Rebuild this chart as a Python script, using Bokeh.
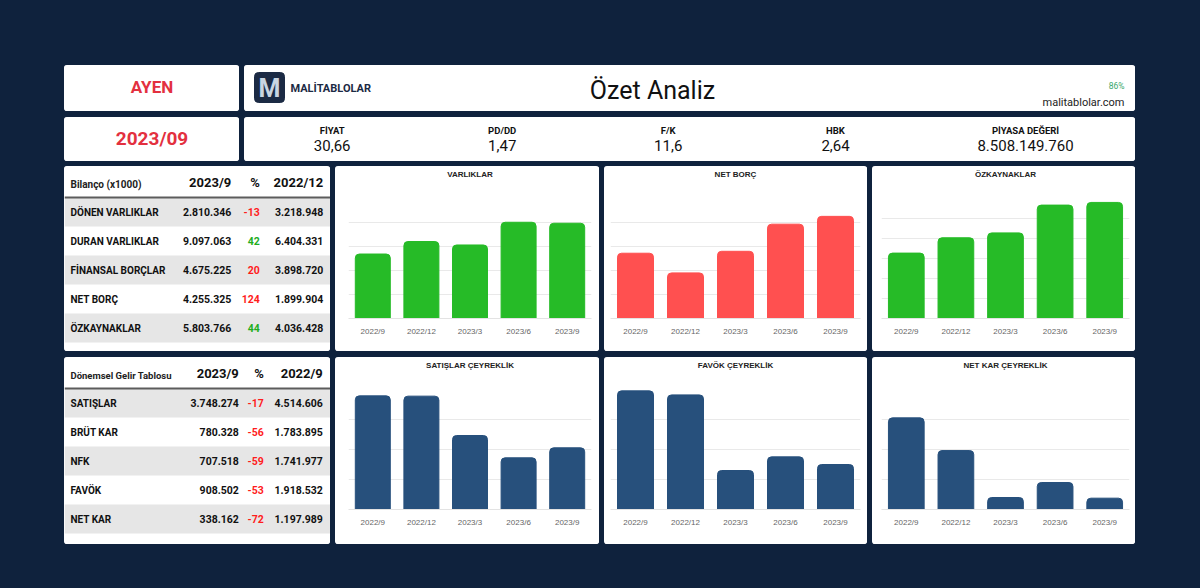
from bokeh.plotting import figure
from bokeh.layouts import row, column
from bokeh.models import Range1d, FactorRange, FixedTicker, GlobalInlineStyleSheet
from bokeh.core.properties import value
from bokeh.embed import file_html
from bokeh.resources import INLINE

# ---------------- data ----------------
stock_code = "AYEN"
report_period = "2023/09"
page_title = "Özet Analiz"
brand_name = "MALİTABLOLAR"
site_url = "malitablolar.com"
score_text = "86%"

metric_names = ["FİYAT", "PD/DD", "F/K", "HBK", "PİYASA DEĞERİ"]
metric_values = ["30,66", "1,47", "11,6", "2,64", "8.508.149.760"]

bilanco_header = ["Bilanço (x1000)", "2023/9", "%", "2022/12"]
bilanco_items = ["DÖNEN VARLIKLAR", "DURAN VARLIKLAR", "FİNANSAL BORÇLAR", "NET BORÇ", "ÖZKAYNAKLAR"]
bilanco_cur = ["2.810.346", "9.097.063", "4.675.225", "4.255.325", "5.803.766"]
bilanco_pct = [-13, 42, 20, 124, 44]
bilanco_pct_good = [False, True, False, False, True]
bilanco_prev = ["3.218.948", "6.404.331", "3.898.720", "1.899.904", "4.036.428"]

gelir_header = ["Dönemsel Gelir Tablosu", "2023/9", "%", "2022/9"]
gelir_items = ["SATIŞLAR", "BRÜT KAR", "NFK", "FAVÖK", "NET KAR"]
gelir_cur = ["3.748.274", "780.328", "707.518", "908.502", "338.162"]
gelir_pct = [-17, -56, -59, -53, -72]
gelir_pct_good = [False, False, False, False, False]
gelir_prev = ["4.514.606", "1.783.895", "1.741.977", "1.918.532", "1.197.989"]

periods = ["2022/9", "2022/12", "2023/3", "2023/6", "2023/9"]
varliklar = [8060000, 9623279, 9190000, 12030000, 11907409]
net_borc = [2720000, 1899904, 2800000, 3930000, 4255325]
ozkaynaklar = [3270000, 4036428, 4280000, 5670000, 5803766]
satislar_q = [2273000, 2267000, 1480000, 1034000, 1234000]
favok_q = [791000, 764000, 260000, 351000, 300000]
net_kar_q = [611000, 393000, 80000, 180000, 75500]

# ---------------- style ----------------
BG = "#0f223d"
RED = "#e3303f"
GREEN_BAR = "#26bb27"
RED_BAR = "#ff5050"
BLUE_BAR = "#27507c"
PCT_RED = "#ff1c1c"
PCT_GREEN = "#1fae1f"
FONT = value("Roboto")
CFONT = "Liberation Sans"


def panel(w, h, radius="3px"):
    p = figure(width=w, height=h, x_range=Range1d(0, w), y_range=Range1d(h, 0),
               output_backend="svg", toolbar_location=None,
               x_axis_location=None, y_axis_location=None, min_border=0,
               background_fill_color="white", border_fill_color="white")
    p.outline_line_color = None
    p.grid.visible = False
    p.styles = {"border-radius": radius, "overflow": "hidden", "background-color": "white"}
    return p


def txt(p, x, y, s, size, color="#111111", bold=True, align="center", font=FONT):
    p.text(x=x if isinstance(x, list) else [x], y=y if isinstance(y, list) else [y],
           text=s if isinstance(s, list) else [s],
           text_font=font, text_font_size=size,
           text_font_style="bold" if bold else "normal",
           text_color=color, text_align=align, text_baseline="middle")


# ---- top-left panels ----
p_code = panel(175, 46)
txt(p_code, 87.5, 21, stock_code, "17px", RED)

p_date = panel(175, 44)
txt(p_date, 87.5, 20.5, report_period, "19px", RED)

# ---- header ----
p_head = panel(891, 46)
p_head.quad(left=[10], right=[40], top=[7], bottom=[37], fill_color="#1b2a44",
            line_color="#1b2a44", border_radius=4)
txt(p_head, 25, 23, "M", "25px", "#c8d5e2")
txt(p_head, 46, 23, brand_name, "11px", "#1b2a44", align="left")
txt(p_head, 408, 24.5, page_title, "25px", "#111111", bold=False)
txt(p_head, 880, 20.5, score_text, "8.5px", "#3aa76d", bold=False, align="right")
txt(p_head, 880, 37, site_url, "11px", "#222222", bold=False, align="right")

# ---- metrics ----
p_met = panel(891, 44)
metric_x = [87.7, 257.7, 423.7, 591, 781]
txt(p_met, metric_x, [13] * 5, metric_names, "9.5px", "#111111")
txt(p_met, metric_x, [28] * 5, metric_values, "15px", "#111111", bold=False)


# ---- tables ----
def table(h, header, items, cur, pct, good, prev, cols, label_size):
    p = panel(266, h)
    row_h = 29
    top0 = 31
    for i in range(len(items)):
        if i % 2 == 0:
            p.quad(left=[0], right=[266], top=[top0 + i * row_h], bottom=[top0 + (i + 1) * row_h],
                   fill_color="#e6e6e6", line_color=None)
    p.quad(left=[0], right=[266], top=[top0 - 1], bottom=[top0 + 1], fill_color="#5c5c5c", line_color=None)
    txt(p, 6, 17.5, header[0], label_size, "#222222", align="left")
    txt(p, [cols[0], cols[1], cols[2]], [16] * 3, header[1:], "13px", "#111111", align="right")
    ys = [top0 + i * row_h + row_h / 2 for i in range(len(items))]
    txt(p, [6] * len(items), ys, items, "10px", "#111111", align="left")
    txt(p, [cols[0]] * len(items), ys, cur, "10.5px", "#111111", align="right")
    txt(p, [cols[1]] * len(items), ys, [str(v) for v in pct], "10.5px",
        [PCT_GREEN if g else PCT_RED for g in good], align="right")
    txt(p, [cols[2]] * len(items), ys, prev, "10.5px", "#111111", align="right")
    return p


t1 = table(185, bilanco_header, bilanco_items, bilanco_cur, bilanco_pct, bilanco_pct_good,
           bilanco_prev, [166.7, 195.3, 258.7], "10px")
t2 = table(187, gelir_header, gelir_items, gelir_cur, gelir_pct, gelir_pct_good,
           gelir_prev, [174.3, 199.3, 258.3], "9.5px")


# ---- bar charts ----
def bar_chart(title, vals, color, ymax, ystep, w, h, left, right, bottom):
    head_h = 31
    ph = panel(w, head_h, radius="3px 3px 0 0")
    txt(ph, w / 2, 8, title, "8px", "#222222", font=value(CFONT))

    p = figure(x_range=FactorRange(*periods), y_range=Range1d(0, ymax), width=w, height=h - head_h,
               output_backend="svg", toolbar_location=None, y_axis_location=None,
               min_border_left=left, min_border_right=right, min_border_top=1,
               min_border_bottom=bottom,
               background_fill_color="white", border_fill_color="white")
    p.outline_line_color = None
    p.styles = {"border-radius": "0 0 3px 3px", "overflow": "hidden", "background-color": "white"}
    p.xgrid.visible = False
    ticks = []
    t = ystep
    while t <= ymax + 1e-6:
        ticks.append(t)
        t += ystep
    p.ygrid.ticker = FixedTicker(ticks=ticks)
    p.ygrid.grid_line_color = "#e9e9e9"
    p.vbar(x=periods, top=vals, width=0.72, fill_color=color, line_color=color,
           border_radius=(4, 4, 0, 0))
    ax = p.xaxis[0]
    ax.axis_line_color = "#e3e3e3"
    ax.major_tick_line_color = None
    ax.major_tick_out = 0
    ax.major_tick_in = 0
    ax.major_label_standoff = 8
    ax.major_label_text_font = CFONT
    ax.major_label_text_font_size = "8px"
    ax.major_label_text_color = "#666666"
    return column(ph, p, spacing=0)


c1 = bar_chart("VARLIKLAR", varliklar, GREEN_BAR, 15000000, 3000000, 264, 185, 13, 8, 33)
c2 = bar_chart("NET BORÇ", net_borc, RED_BAR, 5000000, 1000000, 263, 185, 6, 7, 33)
c3 = bar_chart("ÖZKAYNAKLAR", ozkaynaklar, GREEN_BAR, 6000000, 1000000, 263, 185, 9, 6, 33)
c4 = bar_chart("SATIŞLAR ÇEYREKLİK", satislar_q, BLUE_BAR, 2400000, 600000, 264, 187, 13, 8, 35)
c5 = bar_chart("FAVÖK ÇEYREKLİK", favok_q, BLUE_BAR, 800000, 200000, 263, 187, 6, 7, 35)
c6 = bar_chart("NET KAR ÇEYREKLİK", net_kar_q, BLUE_BAR, 800000, 200000, 263, 187, 9, 6, 35)

# ---------------- layout ----------------
top_left = column(p_code, p_date, spacing=6)
top_right = column(p_head, p_met, spacing=6)
top = row(top_left, top_right, spacing=5)
tables = column(t1, t2, spacing=6)
charts = column(row(c1, c2, c3, spacing=5), row(c4, c5, c6, spacing=5), spacing=6)
bottom = row(tables, charts, spacing=5)
root = column(top, bottom, spacing=5,
              styles={"background-color": BG, "padding": "65px 65px 44px 64px"})
root.stylesheets = [GlobalInlineStyleSheet(css="html, body {margin:0; padding:0; background-color:%s;}" % BG)]

open("out.html", "w").write(file_html(root, INLINE))
